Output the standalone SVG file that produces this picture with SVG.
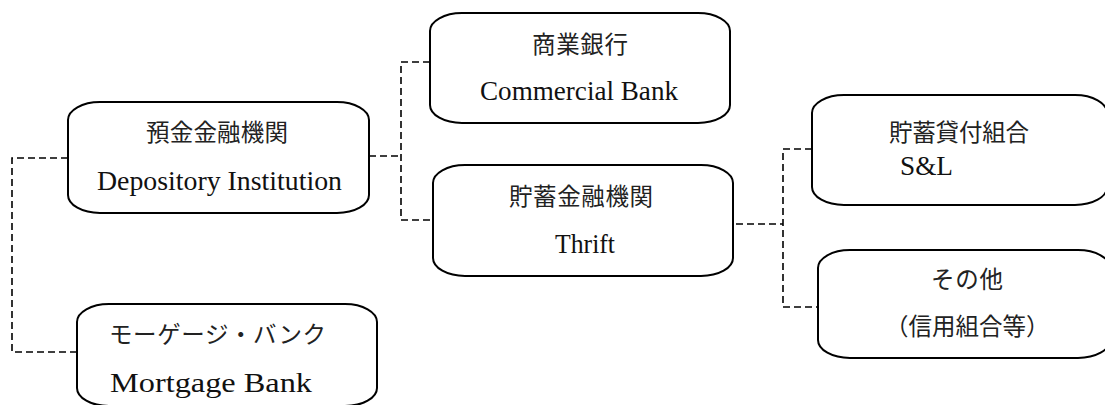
<svg xmlns="http://www.w3.org/2000/svg" width="1105" height="405" viewBox="0 0 1105 405">
<style>
.box{fill:#fff;stroke:#000;stroke-width:2}
.con{fill:none;stroke:#000;stroke-width:1.6;stroke-dasharray:7 4}
.jp{font-family:"Liberation Serif","Noto Sans CJK JP",serif;font-size:23.5px;fill:#222}
.en{font-family:"Liberation Serif",serif;font-size:26.5px;fill:#111}
</style>
<rect width="1105" height="405" fill="#fff"/>
<g id="connectors">
<polyline class="con" points="68,158 12,158 12,352 77,352"/>
<polyline class="con" points="369,156 401,156"/>
<polyline class="con" points="430,62 401,62 401,220 433,220"/>
<polyline class="con" points="725,224 783,224"/>
<polyline class="con" points="812,149 783,149 783,307 818,307"/>
</g>
<g id="depository">
<rect class="box" x="68" y="102" width="301" height="111" rx="32" ry="18"/>
<text class="jp" x="146" y="141" textLength="142">預金金融機関</text>
<text class="en" x="97" y="190" textLength="245" lengthAdjust="spacingAndGlyphs">Depository Institution</text>
</g>
<g id="commercial">
<rect class="box" x="430" y="13" width="300" height="110" rx="32" ry="18"/>
<text class="jp" x="532" y="53" textLength="96">商業銀行</text>
<text class="en" x="480" y="100" textLength="198" lengthAdjust="spacingAndGlyphs">Commercial Bank</text>
</g>
<g id="thrift">
<rect class="box" x="433" y="165" width="300" height="111" rx="32" ry="18"/>
<text class="jp" x="509" y="205" textLength="144">貯蓄金融機関</text>
<text class="en" x="555" y="253" textLength="60" lengthAdjust="spacingAndGlyphs">Thrift</text>
</g>
<g id="snl">
<rect class="box" x="812" y="95" width="295" height="110" rx="32" ry="18"/>
<text class="jp" x="889" y="141" textLength="140">貯蓄貸付組合</text>
<text class="en" x="900" y="175" textLength="53" lengthAdjust="spacingAndGlyphs">S&amp;L</text>
</g>
<g id="others">
<rect class="box" x="818" y="250" width="292" height="108" rx="32" ry="18"/>
<text class="jp" x="931" y="288" textLength="72">その他</text>
<text class="jp" x="885" y="335">（信用組合等）</text>
</g>
<g id="mortgage">
<rect class="box" x="77" y="304" width="300" height="102" rx="32" ry="18"/>
<text class="jp" x="109" y="343" textLength="217">モーゲージ・バンク</text>
<text class="en" x="110" y="392" textLength="202" lengthAdjust="spacingAndGlyphs">Mortgage Bank</text>
</g>
</svg>
